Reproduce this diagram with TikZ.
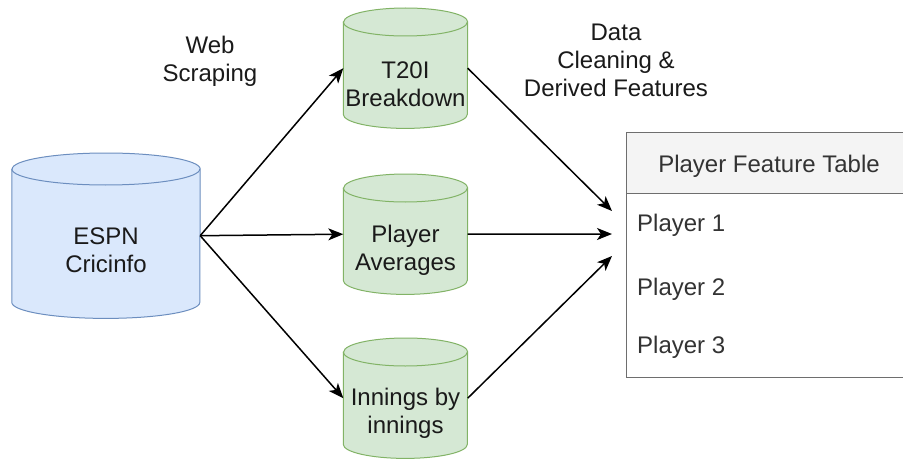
\documentclass[tikz,border=0pt]{standalone}
\usepackage{fontspec}
\setmainfont{Liberation Sans}
\usetikzlibrary{arrows.meta}
\definecolor{bluefill}{HTML}{DAE8FC}
\definecolor{bluedraw}{HTML}{6C8EBF}
\definecolor{greenfill}{HTML}{D5E8D4}
\definecolor{greendraw}{HTML}{82B366}
\definecolor{tblline}{HTML}{6E6E6E}
\definecolor{tblhead}{HTML}{F4F4F4}
\definecolor{txt}{HTML}{1A1A1A}
\definecolor{tbltxt}{HTML}{333333}
\newcommand\lnst{\rule[-6pt]{0pt}{28pt}}
% name, cx, top, rx, height, ry, style
\newcommand\dbcyl[7]{%
  \node[minimum width=2*#4pt, minimum height=#5pt, inner sep=0pt, anchor=north] (#1) at (#2,-#3) {};
  \path[#7] ([yshift=-#6pt]#1.north west) -- ([yshift=#6pt]#1.south west)
     arc[start angle=180, end angle=360, x radius=#4pt, y radius=#6pt]
     -- ([yshift=-#6pt]#1.north east)
     arc[start angle=0, end angle=180, x radius=#4pt, y radius=#6pt] -- cycle;
  \draw[#7, fill=none] ([yshift=-#6pt]#1.north west)
     arc[start angle=180, end angle=360, x radius=#4pt, y radius=#6pt];
}
\tikzset{
  x=1pt, y=1pt,
  bluecyl/.style={fill=bluefill, draw=bluedraw, line width=1pt},
  greencyl/.style={fill=greenfill, draw=greendraw, line width=1pt},
  lbl/.style={inner sep=0pt, align=center, text=txt, font=\fontsize{24pt}{28pt}\selectfont},
  rowtxt/.style={inner sep=0pt, anchor=west, text=tbltxt, font=\fontsize{24pt}{28pt}\selectfont},
  flow/.style={line width=1.5pt, black, -{Stealth[length=15pt, width=12pt, inset=4pt]}},
}
\begin{document}
\begin{tikzpicture}
\useasboundingbox (0,0) rectangle (903,-460);
\fill[white] (0,0) rectangle (903,-460);

% cylinders
\dbcyl{espn}{106}{153}{94}{165}{16}{bluecyl}
\dbcyl{t20}{405.5}{8}{62}{120}{14}{greencyl}
\dbcyl{avg}{405.5}{174}{62}{120}{14}{greencyl}
\dbcyl{inn}{405.5}{338}{62}{120}{14}{greencyl}

\node[lbl] (espntxt) at (106,-250.5) {\lnst ESPN\\\lnst Cricinfo};
\node[lbl] (t20txt) at (405.5,-84.5) {\lnst T20I\\\lnst Breakdown};
\node[lbl] (avgtxt) at (405.5,-248.5) {\lnst Player\\\lnst Averages};
\node[lbl] (inntxt) at (405.5,-411) {\lnst Innings by\\\lnst innings};

% edge labels
\node[lbl] (web) at (210,-59.6) {\lnst Web\\\lnst Scraping};
\node[lbl] (clean) at (616,-60.2) {\lnst Data\\\lnst Cleaning \&\\\lnst Derived Features};

% table
\node[draw=tblline, fill=tblhead, line width=1pt, minimum width=286pt, minimum height=61pt, inner sep=0pt, anchor=north west] (head) at (626,-132) {};
\node[draw=tblline, fill=white, line width=1pt, minimum width=286pt, minimum height=184pt, inner sep=0pt, anchor=north west] (body) at (626,-193) {};
\node[lbl, text=tbltxt] (headtxt) at (769,-164.7) {\lnst Player Feature Table};
\node[rowtxt] (p1) at (637,-223.7) {\lnst Player 1};
\node[rowtxt] (p2) at (637,-287) {\lnst Player 2};
\node[rowtxt] (p3) at (637,-345.3) {\lnst Player 3};

\coordinate (in1) at (612,-211);
\coordinate (in2) at (612,-234);
\coordinate (in3) at (612,-256);

% connectors
\draw[flow] (espn.east) -- (t20.west);
\draw[flow] (espn.east) -- (avg.west);
\draw[flow] (espn.east) -- (inn.west);
\draw[flow] (t20.east) -- (in1);
\draw[flow] (avg.east) -- (in2);
\draw[flow] (inn.east) -- (in3);
\end{tikzpicture}
\end{document}
